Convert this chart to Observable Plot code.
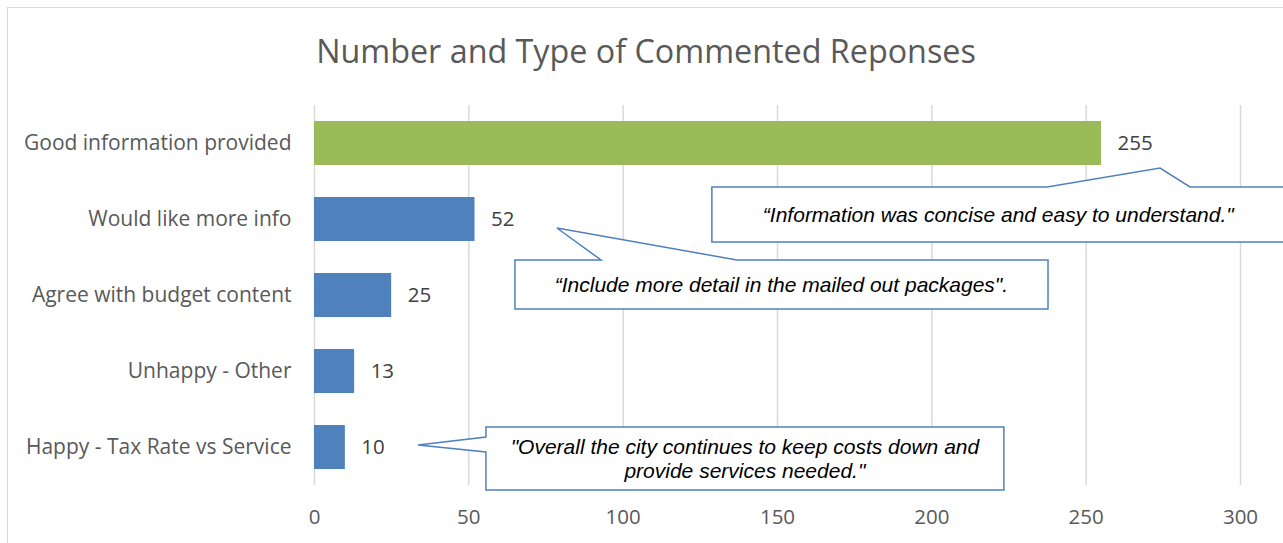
<!DOCTYPE html>
<html>
<head>
<meta charset="utf-8">
<script src="https://cdn.jsdelivr.net/npm/d3@7"></script>
<script src="https://cdn.jsdelivr.net/npm/@observablehq/plot@0.6"></script>
<style>
  html, body { margin: 0; padding: 0; background: #fff; }
  #wrap { position: relative; width: 1283px; height: 543px; overflow: hidden; background: #fff; }
  #border { position: absolute; left: 7px; top: 7px; width: 1300px; height: 560px; border: 1px solid #d9d9d9; box-sizing: border-box; }
  #title { position: absolute; left: 0; top: 27.5px; width: 1292px; text-align: center;
           font-family: "Open Sans", sans-serif; font-size: 32.3px; color: #595959; line-height: normal; white-space: nowrap; }
  #chart { position: absolute; left: 0; top: 90px; }
  #chart svg { overflow: visible; }
</style>
</head>
<body>
<div id="wrap">
  <div id="border"></div>
  <div id="title">Number and Type of Commented Reponses</div>
  <div id="chart"></div>
</div>
<script>
// ---- data ----
const categories = [
  "Good information provided",
  "Would like more info",
  "Agree with budget content",
  "Unhappy - Other",
  "Happy - Tax Rate vs Service"
];
const counts = [255, 52, 25, 13, 10];
const highlighted = "Good information provided";
const xTicks = [0, 50, 100, 150, 200, 250, 300];
const quoteCategories = ["Good information provided", "Would like more info", "Happy - Tax Rate vs Service"];
const quoteLines = [
  ["\u201CInformation was concise and easy to understand.\""],
  ["\u201CInclude more detail in the mailed out packages\"."],
  ["\"Overall the city continues to keep costs down and", "provide services needed.\""]
];

const rows = categories.map((c, i) => ({category: c, count: counts[i], kind: c === highlighted ? "highlight" : "other"}));

// ---- callout geometry (x in value units, y offsets in px from the band centre) ----
const calloutGeom = [
  {box: [128.9, 314.5], top: 44, bottom: 99, edge: "top", base: [237.5, 283.8], tip: [274.1, 25]},
  {box: [65.1, 237.8], top: 41, bottom: 90, edge: "top", base: [93.0, 137.0], tip: [78.7, 9]},
  {box: [55.7, 223.5], top: -20, bottom: 43, edge: "left", base: [5, -10], tip: [33.7, -2]}
];

function calloutMark(...args) {
  const s = args.find(a => a && typeof a.x === "function" && typeof a.y === "function");
  const x = s.x, y = s.y;
  const bw = y.bandwidth ? y.bandwidth() : 0;
  const g = d3.create("svg:g");
  quoteCategories.forEach((cat, i) => {
    const geo = calloutGeom[i];
    const cy = y(cat) + bw / 2;
    const L = x(geo.box[0]), R = x(geo.box[1]);
    const T = cy + geo.top, B = cy + geo.bottom;
    let pts;
    if (geo.edge === "top") {
      pts = [[L, T], [x(geo.base[0]), T], [x(geo.tip[0]), cy + geo.tip[1]], [x(geo.base[1]), T], [R, T], [R, B], [L, B]];
    } else {
      pts = [[L, T], [R, T], [R, B], [L, B], [L, cy + geo.base[0]], [x(geo.tip[0]), cy + geo.tip[1]], [L, cy + geo.base[1]]];
    }
    g.append("path")
      .attr("d", "M" + pts.map(p => p.join(",")).join("L") + "Z")
      .attr("fill", "#fff")
      .attr("stroke", "#4F81BD")
      .attr("stroke-width", 1.5)
      .attr("stroke-linejoin", "miter");
    const lines = quoteLines[i];
    const lh = 24;
    const mid = (T + B) / 2;
    lines.forEach((ln, j) => {
      g.append("text")
        .attr("x", (L + R) / 2)
        .attr("y", mid + (j - (lines.length - 1) / 2) * lh)
        .attr("text-anchor", "middle")
        .attr("dominant-baseline", "central")
        .attr("font-family", "'Liberation Sans', Arial, sans-serif")
        .attr("font-style", "italic")
        .attr("font-size", 21)
        .attr("fill", "#000")
        .text(ln);
    });
  });
  return g.node();
}

const chart = Plot.plot({
  width: 1283,
  height: 453,
  marginLeft: 314,
  marginRight: 43,
  marginTop: 15,
  marginBottom: 58,
  style: {fontFamily: "'Open Sans', sans-serif", fontSize: "20.5px", color: "#595959", background: "transparent", overflow: "visible"},
  x: {domain: [0, 300]},
  y: {domain: categories, paddingInner: 0.42, paddingOuter: 0.21},
  color: {domain: ["highlight", "other"], range: ["#9BBB59", "#4F81BD"]},
  marks: [
    Plot.gridX(xTicks, {stroke: "#d9d9d9", strokeOpacity: 1, strokeWidth: 1.5}),
    Plot.axisX(xTicks, {tickSize: 0, tickPadding: 24, label: null, fill: "#595959", fontSize: 20.5}),
    Plot.axisY({tickSize: 0, tickPadding: 23, label: null, fill: "#595959", fontSize: 21}),
    Plot.barX(rows, {x: "count", y: "category", fill: "kind"}),
    Plot.text(rows, {x: "count", y: "category", text: d => String(d.count), dx: 16, textAnchor: "start", fill: "#404040", fontSize: 20.5}),
    calloutMark
  ]
});
document.getElementById("chart").appendChild(chart);
</script>
</body>
</html>
